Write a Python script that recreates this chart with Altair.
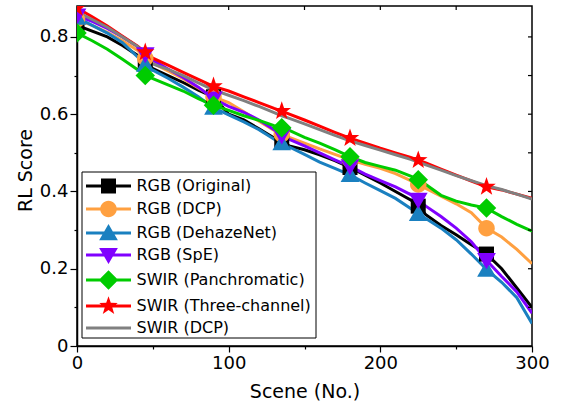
import altair as alt
import pandas as pd

scene = [0, 10, 20, 30, 40, 45, 50, 60, 70, 80, 90, 100, 110, 120, 130, 135, 140, 150,
         160, 170, 180, 190, 200, 210, 220, 225, 230, 240, 250, 260, 270, 280, 290, 300]

rgb_original = [0.830, 0.815, 0.800, 0.778, 0.752, 0.732, 0.718, 0.700, 0.682, 0.662, 0.645, 0.600,
                0.585, 0.562, 0.538, 0.528, 0.518, 0.508, 0.495, 0.480, 0.462, 0.442, 0.422, 0.400,
                0.378, 0.362, 0.340, 0.312, 0.288, 0.262, 0.238, 0.200, 0.150, 0.100]
rgb_dcp = [0.845, 0.830, 0.812, 0.790, 0.765, 0.745, 0.732, 0.712, 0.692, 0.668, 0.645, 0.630,
           0.606, 0.582, 0.558, 0.548, 0.540, 0.525, 0.510, 0.496, 0.482, 0.470, 0.460, 0.446,
           0.428, 0.418, 0.408, 0.388, 0.368, 0.345, 0.305, 0.282, 0.250, 0.213]
rgb_dehazenet = [0.850, 0.830, 0.810, 0.785, 0.748, 0.728, 0.714, 0.693, 0.670, 0.645, 0.617, 0.598,
                 0.580, 0.560, 0.535, 0.525, 0.515, 0.496, 0.476, 0.460, 0.443, 0.422, 0.402, 0.382,
                 0.356, 0.342, 0.330, 0.305, 0.275, 0.238, 0.198, 0.165, 0.125, 0.058]
rgb_spe = [0.855, 0.840, 0.822, 0.800, 0.775, 0.755, 0.740, 0.717, 0.695, 0.670, 0.640, 0.620,
           0.605, 0.585, 0.560, 0.545, 0.535, 0.518, 0.500, 0.482, 0.465, 0.445, 0.428, 0.412,
           0.392, 0.378, 0.362, 0.335, 0.305, 0.270, 0.222, 0.180, 0.140, 0.085]
swir_pan = [0.810, 0.790, 0.768, 0.742, 0.715, 0.700, 0.692, 0.676, 0.660, 0.640, 0.623, 0.610,
            0.596, 0.584, 0.570, 0.565, 0.558, 0.540, 0.525, 0.508, 0.490, 0.475, 0.465, 0.455,
            0.440, 0.430, 0.418, 0.390, 0.375, 0.365, 0.357, 0.335, 0.315, 0.297]
swir_three = [0.875, 0.852, 0.828, 0.802, 0.776, 0.760, 0.745, 0.727, 0.708, 0.690, 0.672, 0.660,
              0.645, 0.630, 0.615, 0.608, 0.600, 0.585, 0.569, 0.553, 0.538, 0.525, 0.512, 0.500,
              0.488, 0.481, 0.474, 0.458, 0.442, 0.427, 0.412, 0.404, 0.393, 0.382]
swir_dcp = [0.865, 0.845, 0.825, 0.800, 0.775, 0.752, 0.730, 0.716, 0.700, 0.681, 0.663, 0.649,
            0.635, 0.620, 0.604, 0.596, 0.589, 0.575, 0.560, 0.545, 0.531, 0.519, 0.507, 0.495,
            0.483, 0.476, 0.469, 0.455, 0.441, 0.428, 0.415, 0.405, 0.393, 0.380]

names = ["RGB (Original)", "RGB (DCP)", "RGB (DehazeNet)", "RGB (SpE)",
         "SWIR (Panchromatic)", "SWIR (Three-channel)", "SWIR (DCP)"]
colors = ["#000000", "#FFA040", "#1A80C0", "#8000FF", "#00CC00", "#FF0000", "#808080"]
marker_scenes = [0, 45, 90, 135, 180, 225, 270]

x_tick_values = [0, 50, 100, 150, 200, 250, 300]
y_tick_values = [0, 0.1, 0.2, 0.3, 0.4, 0.5, 0.6, 0.7, 0.8]
top_tick_values = [50, 100, 150, 200, 250]
right_tick_values = [0.1, 0.2, 0.3, 0.4, 0.5, 0.6, 0.7, 0.8]

series_values = [rgb_original, rgb_dcp, rgb_dehazenet, rgb_spe, swir_pan, swir_three, swir_dcp]

rows = []
for i, (nm, vals) in enumerate(zip(names, series_values)):
    for x, v in zip(scene, vals):
        rows.append({"series": nm, "idx": i, "scene": x, "score": v})
df = pd.DataFrame(rows)
markers_df = df[df["scene"].isin(marker_scenes) & (df["series"] != "SWIR (DCP)")]
legend_df = df[df["scene"] == 0]
top_df = pd.DataFrame({"scene": top_tick_values})
right_df = pd.DataFrame({"score": right_tick_values})
box_df = pd.DataFrame({"k": [0]})

# marker shapes (unit square -1..1)
sq = "M-1,-1L1,-1L1,1L-1,1Z"
ci = "M-1.1,0A1.1,1.1,0,1,1,1.1,0A1.1,1.1,0,1,1,-1.1,0Z"
tu = "M0,-1.2L1.25,0.95L-1.25,0.95Z"
td = "M0,1.2L-1.25,-0.95L1.25,-0.95Z"
di = "M0,-1.3L1.3,0L0,1.3L-1.3,0Z"
st = ("M0,-1.3L0.306,-0.421L1.236,-0.402L0.495,0.161L0.764,1.052L0,0.52"
      "L-0.764,1.052L-0.495,0.161L-1.236,-0.402L-0.306,-0.421Z")
ln = "M-3,-0.2L3,-0.2L3,0.2L-3,0.2Z"
marker_paths = [sq, ci, tu, td, di, st]
legend_paths = [ln + sq, ln + ci, ln + tu, ln + td, ln + di, ln + st, ln]

W, H = 455, 340
font = "DejaVu Sans"

x_scale = alt.Scale(domain=[0, 300], nice=False, zero=False)
y_scale = alt.Scale(domain=[0, 0.88], nice=False, zero=False)

x_axis = alt.Axis(values=x_tick_values, title="Scene (No.)",
                  labelExpr="datum.value % 100 == 0 ? datum.label : ''",
                  tickSize={"condition": {"test": "datum.value % 100 == 0", "value": 6}, "value": 3},
                  labelFontSize=18, titleFontSize=19, labelPadding=2,
                  titleY=51, titleBaseline="alphabetic", labelFlush=False, grid=False)
y_axis = alt.Axis(values=y_tick_values, title="RL Score",
                  labelExpr="round(datum.value*10) % 2 == 0 ? (datum.value == 0 ? '0' : format(datum.value, '.1f')) : ''",
                  tickSize={"condition": {"test": "round(datum.value*10) % 2 == 0", "value": 7}, "value": 3},
                  labelFontSize=18, titleFontSize=19, labelPadding=2,
                  titleX=-52, titleY=164, titleBaseline="middle", titleAlign="center",
                  labelFlush=False, grid=False)

X = alt.X("scene:Q", scale=x_scale, axis=x_axis)
Y = alt.Y("score:Q", scale=y_scale, axis=y_axis)

color_scale = alt.Scale(domain=names, range=colors)

lines = alt.Chart(df).mark_line(strokeWidth=3, clip=True).encode(
    x=X, y=Y,
    color=alt.Color("series:N", scale=color_scale, legend=None),
    order=alt.Order("scene:Q"),
)

markers = alt.Chart(markers_df).mark_point(filled=True, size=225, opacity=1, strokeWidth=0, clip=True).encode(
    x=X, y=Y,
    color=alt.Color("series:N", scale=color_scale, legend=None),
    shape=alt.Shape("series:N", scale=alt.Scale(domain=names[:6], range=marker_paths), legend=None),
)

# legend frame (white box with black border)
legend_box = alt.Chart(box_df).mark_rect(fill="white", stroke="black", strokeWidth=1).encode(
    x=alt.value(5), x2=alt.value(239), y=alt.value(166), y2=alt.value(332))

leg = alt.Legend(title=None, orient="none", legendX=5, legendY=169, direction="vertical",
                 padding=3, symbolOffset=15.5, labelOffset=20, symbolSize=225, symbolStrokeWidth=0,
                 symbolOpacity=1, labelFont=font, labelFontSize=16, labelColor="black",
                 rowPadding=6, labelLimit=400)

legend_layer = alt.Chart(legend_df).mark_point(filled=True, size=225, opacity=0, clip=True).encode(
    x=X, y=Y,
    color=alt.Color("series:N", scale=color_scale, legend=leg),
    shape=alt.Shape("series:N", scale=alt.Scale(domain=names, range=legend_paths), legend=leg),
)

top_ticks = alt.Chart(top_df).mark_rule(color="black", strokeWidth=1.2).encode(
    x=X, y=alt.value(0), y2=alt.value(4))
right_ticks = alt.Chart(right_df).mark_rule(color="black", strokeWidth=1.2).encode(
    y=Y, x=alt.value(W - 4), x2=alt.value(W))

chart = alt.layer(lines, markers, legend_box, legend_layer, top_ticks, right_ticks).resolve_scale(
    color="independent", shape="independent"
).properties(
    width=W, height=H,
    autosize=alt.AutoSizeParams(type="none"),
    padding={"left": 77, "top": 6, "right": 30, "bottom": 58},
    background="white",
).configure_view(
    stroke="black", strokeWidth=1.5
).configure_axis(
    domainColor="black", domainWidth=1.5, tickColor="black", tickWidth=1.2,
    labelColor="black", titleColor="black", labelFont=font, titleFont=font,
    titleFontWeight="normal",
)

chart.save("out.html", embed_options={"renderer": "svg", "actions": False})
